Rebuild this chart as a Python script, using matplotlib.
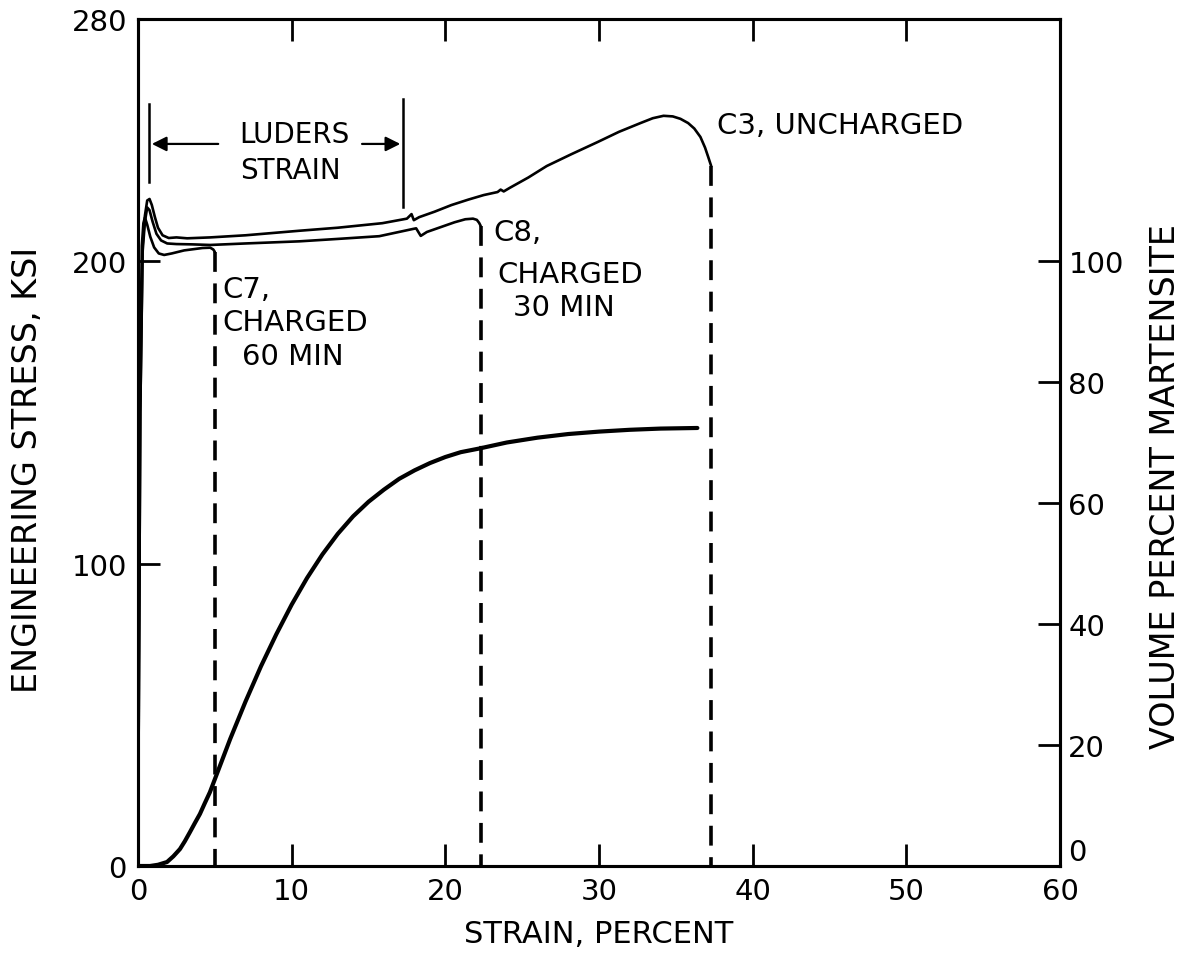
import matplotlib.pyplot as plt
import numpy as np

# stress-strain curves (strain %, stress ksi)
c3_strain = [0, 0.15, 0.3, 0.45, 0.6, 0.75, 0.9, 1.1, 1.3, 1.6, 2.0, 2.5, 3.2, 4.7, 7.0,
             10.5, 13.0, 15.9, 17.5, 17.8, 17.95, 18.3, 19.3, 20.4, 21.5, 22.5, 23.4, 23.6,
             23.8, 24.2, 25.4, 26.6, 28.2, 29.9, 31.3, 32.7, 33.5, 34.2, 34.8, 35.3, 35.8,
             36.2, 36.6, 36.9, 37.1, 37.3]
c3_stress = [0, 150, 205, 215, 220, 220.5, 218.5, 214.5, 211, 208.5, 207.6, 207.8, 207.5,
             207.8, 208.5, 210, 211, 212.5, 214, 215.5, 213.5, 214.5, 216.3, 218.5, 220.3,
             221.8, 222.8, 223.6, 223.0, 224.2, 227.6, 231.4, 235.3, 239.3, 242.7, 245.6,
             247.2, 248, 247.8, 247.0, 245.6, 243.8, 241, 237.5, 234.5, 231.4]

c8_strain = [0, 0.15, 0.3, 0.45, 0.6, 0.75, 0.95, 1.2, 1.5, 1.9, 2.5, 3.5, 4.7, 7.0, 10.5,
             13.0, 15.7, 17.9, 18.1, 18.4, 18.8, 19.7, 20.6, 21.3, 21.8, 22.05, 22.2, 22.3]
c8_stress = [0, 150, 203, 213, 217.7, 216.8, 213, 209, 206.8, 205.8, 205.6, 205.5, 205.3,
             205.8, 206.5, 207.3, 208.2, 210.6, 210.8, 208.3, 209.6, 211.2, 212.8, 213.8,
             214.0, 213.6, 212.6, 211.6]

c7_strain = [0, 0.1, 0.25, 0.35, 0.45, 0.6, 0.8, 1.05, 1.35, 1.7, 2.2, 3.0, 4.2, 4.7, 4.9, 5.0]
c7_stress = [0, 150, 205, 212.5, 214.4, 212, 208, 204.5, 202.5, 202, 202.5, 203.5, 204.3,
             204.4, 203.8, 203]

# fracture strains (dashed drops)
frac_strain = [5.0, 22.3, 37.3]
frac_stress = [203, 211.6, 231.4]

# volume percent martensite (right axis)
mart_strain = [0, 0.78, 1.3, 1.89, 2.3, 2.73, 3.05, 3.38, 3.7, 4.03, 4.35, 4.68, 5.01, 6.0,
               7.0, 8.0, 9.0, 10.0, 11.0, 12.0, 13.0, 14.0, 15.0, 16.0, 17.0, 18.0, 19.0,
               20.0, 21.0, 22.2, 24.0, 26.0, 28.0, 30.0, 32.0, 34.0, 36.4]
mart_pct = [0, 0, 0.2, 0.66, 1.6, 2.8, 4.1, 5.6, 7.1, 8.6, 10.4, 12.2, 14.4, 21, 27.2, 33.0,
            38.3, 43.2, 47.6, 51.5, 54.9, 57.8, 60.2, 62.2, 64.0, 65.4, 66.6, 67.6, 68.4,
            69.0, 70.0, 70.8, 71.4, 71.8, 72.1, 72.3, 72.4]

plt.rcParams['font.family'] = ['DejaVu Sans']

fig = plt.figure(figsize=(11.92, 9.54), dpi=100)
ax = fig.add_axes([138 / 1192, 1 - 867 / 954, (1060 - 138) / 1192, (867 - 20) / 954])
ax2 = ax.twinx()

lw_curve = 1.9
for xs, ys in [(c3_strain, c3_stress), (c8_strain, c8_stress), (c7_strain, c7_stress)]:
    ax.plot(xs, ys, color='black', lw=lw_curve, solid_capstyle='round',
            solid_joinstyle='round')
for xs, ys in zip(frac_strain, frac_stress):
    ax.plot([xs, xs], [ys, 0], color='black', lw=2.6, dashes=(5.5, 3.2))

ax2.plot(mart_strain, mart_pct, color='black', lw=3.0, solid_capstyle='round',
         solid_joinstyle='round')

# Luders strain annotation
ax.plot([0.72, 0.72], [226, 252], color='black', lw=1.8)
ax.plot([17.25, 17.25], [218, 253.5], color='black', lw=1.8)
ax.annotate('', xy=(0.72, 238.7), xytext=(5.4, 238.7),
            arrowprops=dict(arrowstyle='-|>', color='black', lw=1.6, mutation_scale=22))
ax.annotate('', xy=(17.25, 238.7), xytext=(14.4, 238.7),
            arrowprops=dict(arrowstyle='-|>', color='black', lw=1.6, mutation_scale=22))
ax.text(10.2, 241.9, 'LUDERS', fontsize=20, ha='center', va='center')
ax.text(9.95, 230, 'STRAIN', fontsize=20, ha='center', va='center')

fs_lab = 21
ax.text(37.67, 245, 'C3, UNCHARGED', fontsize=fs_lab, ha='left', va='center')
ax.text(23.1, 209.6, 'C8,', fontsize=fs_lab, ha='left', va='center')
ax.text(23.4, 195.7, 'CHARGED', fontsize=fs_lab, ha='left', va='center')
ax.text(24.4, 184.8, '30 MIN', fontsize=fs_lab, ha='left', va='center')
ax.text(5.47, 190.7, 'C7,', fontsize=fs_lab, ha='left', va='center')
ax.text(5.47, 179.8, 'CHARGED', fontsize=fs_lab, ha='left', va='center')
ax.text(6.8, 168.6, '60 MIN', fontsize=fs_lab, ha='left', va='center')

ax.set_xlim(0, 60)
ax.set_ylim(0, 280)
ax2.set_ylim(0, 140)

ax.set_xticks([0, 10, 20, 30, 40, 50, 60])
ax.set_yticks([0, 100, 200, 280])
ax2.set_yticks([0, 20, 40, 60, 80, 100])

for a in (ax, ax2):
    for s in a.spines.values():
        s.set_linewidth(2.2)
    a.tick_params(direction='in', length=16, width=2.0, labelsize=21)
ax.tick_params(axis='x', top=True, pad=8)
ax.tick_params(axis='y', pad=8)
ax2.tick_params(axis='y', pad=6)
# right-hand zero sits just above the corner, clear of the "60" below it
ax2.get_yticklabels()[0].set_verticalalignment('bottom')

ax.set_xlabel('STRAIN, PERCENT', fontsize=22, labelpad=10)
ax.set_ylabel('ENGINEERING STRESS, KSI', fontsize=24)
ax2.set_ylabel('VOLUME PERCENT MARTENSITE', fontsize=24)
ax.yaxis.set_label_coords(-0.102, 0.469)
ax2.yaxis.set_label_coords(1.097, 0.449)

fig.savefig('out.png', dpi=100)
